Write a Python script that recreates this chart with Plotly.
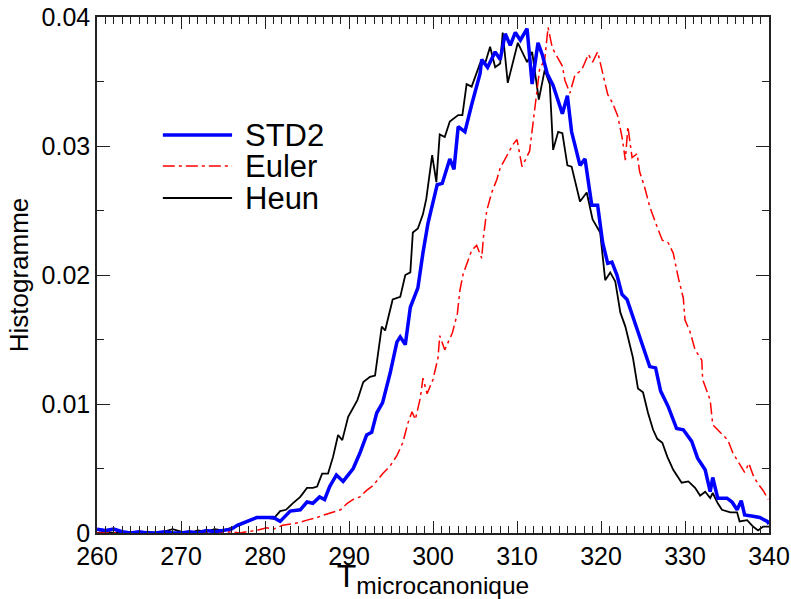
import plotly.graph_objects as go

# ---------------- data ----------------
heun_T = [260, 261, 262, 263, 264, 265, 266, 267, 268, 269, 270, 271, 272, 273, 274, 275,
          276, 277, 278, 279, 280, 281, 281.8, 282.5, 283.3, 284.2, 285, 285.7, 286.2, 286.8,
          287.5, 288.1, 288.7, 289.2, 289.9, 290.5, 291, 291.7, 292.5, 293.1, 293.9, 294.3,
          295.2, 296.1, 296.7, 297.3, 297.6, 298.2, 298.8, 299.2, 299.4, 299.9, 300.4, 300.8,
          301.4, 302.0, 303.0, 303.5, 304.0, 304.6, 305.6, 306.2, 306.8, 307.4, 308.0, 308.3,
          308.9, 310.1, 311.2, 311.8, 312.6, 313.3, 313.9, 314.3, 314.9, 315.4, 316.0, 316.5,
          317.5, 318.3, 319.0, 319.9, 320.5, 321.1, 321.7, 322.3, 322.9, 323.8, 324.4, 325.0,
          325.6, 326.2, 326.7, 327.3, 327.9, 328.6, 329.6, 330.4, 331.2, 331.8, 332.4, 333.0,
          333.3, 333.9, 334.4, 335.4, 336.2, 336.5, 337.4, 338.1, 338.7, 339.3, 340]
heun_H = [0.0, 0.0001, 0.0, 0.0001, 0.0, 0.0, 0.0001, 0.0, 0.0001, 0.0003, 0.0001, 0.0, 0.0002, 0.0001, 0.0003, 0.0002,
          0.0004, 0.0006, 0.0009, 0.0012, 0.0012, 0.0011, 0.0017, 0.0018, 0.0023, 0.0028, 0.0035, 0.0035, 0.0036, 0.0046,
          0.0046, 0.0059, 0.0076, 0.0072, 0.0090, 0.0097, 0.0103, 0.0117, 0.0121, 0.0122, 0.0160, 0.0157,
          0.0181, 0.0183, 0.0200, 0.0202, 0.0233, 0.0236, 0.0247, 0.0259, 0.0270, 0.0293, 0.0272, 0.0309,
          0.0307, 0.0319, 0.0324, 0.0324, 0.0348, 0.0346, 0.0364, 0.0364, 0.0377, 0.0361, 0.0364, 0.0388,
          0.0349, 0.0380, 0.0365, 0.0373, 0.0336, 0.0359, 0.0348, 0.0297, 0.0311, 0.0310, 0.0285, 0.0284,
          0.0257, 0.0264, 0.0243, 0.0233, 0.0196, 0.0202, 0.0195, 0.0171, 0.0160, 0.0136, 0.0112, 0.0109,
          0.0093, 0.0080, 0.0073, 0.0070, 0.0059, 0.0049, 0.0039, 0.0040, 0.0035, 0.0029, 0.0032, 0.0027,
          0.0031, 0.0023, 0.0018, 0.0016, 0.0016, 0.0009, 0.0010, 0.0005, 0.0002, 0.0005, 0.0005]

std2_T = [260, 261, 262, 263, 264, 265, 266, 267, 268, 269, 270, 271, 272, 273, 274, 275,
          276, 276.7, 277.5, 278.2, 279, 279.8, 281, 281.8, 283, 284.2, 285, 285.7, 286.5, 287.1,
          287.7, 288.5, 289.3, 290.5, 291.3, 292.1, 292.7, 293.3, 294.0, 294.9, 295.7, 296.1,
          296.7, 297.3, 298.2, 298.8, 299.4, 300.5, 301.1, 302.0, 302.5, 303.0, 303.8, 304.6,
          305.6, 305.8, 306.5, 307.4, 308.0, 308.6, 309.2, 309.8, 310.4, 311.2, 311.8, 312.5,
          313.0, 313.6, 314.3, 315.4, 316.0, 316.5, 317.5, 318.1, 318.9, 319.6, 320.2, 320.8,
          321.3, 321.9, 322.5, 323.1, 324.3, 325.2, 325.8, 326.5, 327.1, 328.0, 329.0, 329.8,
          330.8, 331.5, 332.4, 333.0, 333.3, 333.9, 335.0, 335.6, 336.2, 336.7, 337.1, 338.1,
          338.9, 339.8, 340]
std2_H = [0.0003, 0.0002, 0.0003, 0.0001, 0.0, 0.0001, 0.0, 0.0, 0.0001, 0.0, 0.0, 0.0001, 0.0, 0.0002, 0.0001, 0.0002,
          0.0003, 0.0006, 0.0008, 0.0010, 0.0012, 0.0012, 0.0012, 0.0009, 0.0017, 0.0018, 0.0024, 0.0023, 0.0028, 0.0026,
          0.0036, 0.0045, 0.0040, 0.0050, 0.0062, 0.0076, 0.0078, 0.0093, 0.0101, 0.0124, 0.0148, 0.0152,
          0.0146, 0.0175, 0.0190, 0.0217, 0.0240, 0.0270, 0.0271, 0.0290, 0.0282, 0.0315, 0.0311, 0.0332,
          0.0356, 0.0367, 0.0361, 0.0373, 0.0367, 0.0387, 0.0378, 0.0388, 0.0382, 0.0391, 0.0348, 0.0380,
          0.0371, 0.0356, 0.0347, 0.0325, 0.0339, 0.0311, 0.0285, 0.0290, 0.0254, 0.0254, 0.0225, 0.0209,
          0.0210, 0.0200, 0.0185, 0.0181, 0.0157, 0.0140, 0.0129, 0.0128, 0.0110, 0.0098, 0.0081, 0.0080,
          0.0071, 0.0058, 0.0049, 0.0032, 0.0043, 0.0027, 0.0027, 0.0024, 0.0018, 0.0025, 0.0014, 0.0013,
          0.0012, 0.0009, 0.0007]

euler_T = [260, 262, 264, 266, 268, 270, 272, 274, 275, 276, 277, 277.9, 279, 280.2, 281,
           282.1, 283.3, 284, 285, 286.2, 287, 288.1, 289, 289.8, 290.5, 291.3, 292.1, 292.9,
           294, 294.9, 295.7, 296.4, 297.0, 297.5, 297.9, 298.5, 298.8, 299.3, 300.0, 300.6,
           300.8, 301.4, 302.3, 302.9, 303.2, 303.6, 304.2, 304.6, 305.2, 305.8, 306.0, 306.4,
           307.0, 307.6, 308.0, 308.9, 309.5, 310.0, 310.6, 311.5, 311.9, 312.4, 312.7, 313.3,
           313.7, 314.2, 314.8, 315.4, 315.7, 316.3, 316.9, 317.7, 318.5, 319.0, 319.6, 320.2,
           320.8, 321.4, 322.0, 322.5, 322.9, 323.2, 323.7, 324.3, 324.6, 325.2, 325.8, 326.7,
           327.3, 328.0, 328.6, 329.2, 329.8, 330.0, 330.6, 331.2, 332.0, 332.1, 333.0, 333.3,
           334.2, 335.1, 335.7, 336.5, 337.1, 337.6, 338.1, 338.6, 339.3, 339.9]
euler_H = [0.0, 0.0, 0.0001, 0.0, 0.0, 0.0, 0.0, 0.0001, 0.0, 0.0001, 0.0, 0.0001, 0.0002, 0.0004, 0.0003,
           0.0006, 0.0007, 0.0008, 0.0010, 0.0012, 0.0014, 0.0016, 0.0018, 0.0023, 0.0026, 0.0028, 0.0033, 0.0037,
           0.0046, 0.0052, 0.0060, 0.0070, 0.0085, 0.0094, 0.0088, 0.0105, 0.0120, 0.0108, 0.0119, 0.0136,
           0.0153, 0.0142, 0.0155, 0.0170, 0.0188, 0.0201, 0.0212, 0.0219, 0.0223, 0.0213, 0.0229, 0.0250,
           0.0264, 0.0274, 0.0283, 0.0294, 0.0301, 0.0305, 0.0284, 0.0296, 0.0317, 0.0340, 0.0360, 0.0367,
           0.0392, 0.0376, 0.0369, 0.0362, 0.0351, 0.0341, 0.0355, 0.0359, 0.0371, 0.0365, 0.0373, 0.0356,
           0.0340, 0.0333, 0.0323, 0.0307, 0.0289, 0.0315, 0.0291, 0.0294, 0.0280, 0.0268, 0.0253, 0.0237,
           0.0227, 0.0225, 0.0217, 0.0198, 0.0182, 0.0165, 0.0156, 0.0142, 0.0134, 0.0119, 0.0103, 0.0084,
           0.0078, 0.0072, 0.0062, 0.0054, 0.0047, 0.0054, 0.0045, 0.0039, 0.0033, 0.0026]

x_tickvals = [260, 270, 280, 290, 300, 310, 320, 330, 340]
x_ticktext = ["260", "270", "280", "290", "300", "310", "320", "330", "340"]
y_tickvals = [0, 0.01, 0.02, 0.03, 0.04]
y_ticktext = ["0", "0.01", "0.02", "0.03", "0.04"]

series_names = ["STD2", "Euler", "Heun"]

# ---------------- figure ----------------
FONT = "Liberation Sans, Arial, sans-serif"
EULER_DASH = "12px,4px,3px,4px"

fig = go.Figure()
fig.add_trace(go.Scatter(x=heun_T, y=heun_H, mode="lines", name="Heun",
                         line=dict(color="#000000", width=1.8)))
fig.add_trace(go.Scatter(x=euler_T, y=euler_H, mode="lines", name="Euler",
                         line=dict(color="#ff0000", width=1.5, dash=EULER_DASH)))
fig.add_trace(go.Scatter(x=std2_T, y=std2_H, mode="lines", name="STD2",
                         line=dict(color="#0000ff", width=3.5)))

axis_common = dict(
    showline=True, linecolor="#222222", linewidth=1.5, mirror="ticks",
    ticks="inside", tickcolor="#222222", tickwidth=1.3,
    showgrid=False, zeroline=False,
    tickfont=dict(family=FONT, size=25, color="#000000"),
)

fig.update_xaxes(
    range=[260, 340], tickvals=x_tickvals, ticktext=x_ticktext, ticklen=12,
    minor=dict(dtick=1, tick0=260, ticklen=7, ticks="inside", tickcolor="#222222", tickwidth=1),
    title=dict(text="T<sub><span style='font-size:24.5px'>microcanonique</span></sub>",
               font=dict(family=FONT, size=32, color="#000000"), standoff=0),
    **axis_common,
)
fig.update_yaxes(
    range=[0, 0.04], tickvals=y_tickvals, ticktext=y_ticktext, ticklen=13,
    minor=dict(dtick=0.005, tick0=0, ticklen=7, ticks="inside", tickcolor="#222222", tickwidth=1),
    title=dict(text="Histogramme", font=dict(family=FONT, size=26, color="#000000"), standoff=5),
    **axis_common,
)

# custom legend (long sample lines as in the reference)
leg_styles = {
    "STD2": dict(color="#0000ff", width=3.5, dash="solid"),
    "Euler": dict(color="#ff0000", width=1.5, dash=EULER_DASH),
    "Heun": dict(color="#000000", width=1.8, dash="solid"),
}
leg_y = [0.7713, 0.7112, 0.6492]
for name, yy in zip(series_names, leg_y):
    fig.add_shape(type="line", xref="paper", yref="paper", x0=0.098, x1=0.201, y0=yy, y1=yy,
                  line=leg_styles[name])
    fig.add_annotation(xref="paper", yref="paper", x=0.218, y=yy, text=name, showarrow=False,
                       xanchor="left", yanchor="middle",
                       font=dict(family=FONT, size=31, color="#000000"))

fig.update_layout(
    width=791, height=599,
    margin=dict(l=97, r=22, t=17, b=66, autoexpand=False),
    paper_bgcolor="white", plot_bgcolor="white",
    showlegend=False,
)

fig.write_html("out.html", config={"displayModeBar": False},
               post_script="document.body.style.margin='0';document.body.style.overflow='hidden';")
